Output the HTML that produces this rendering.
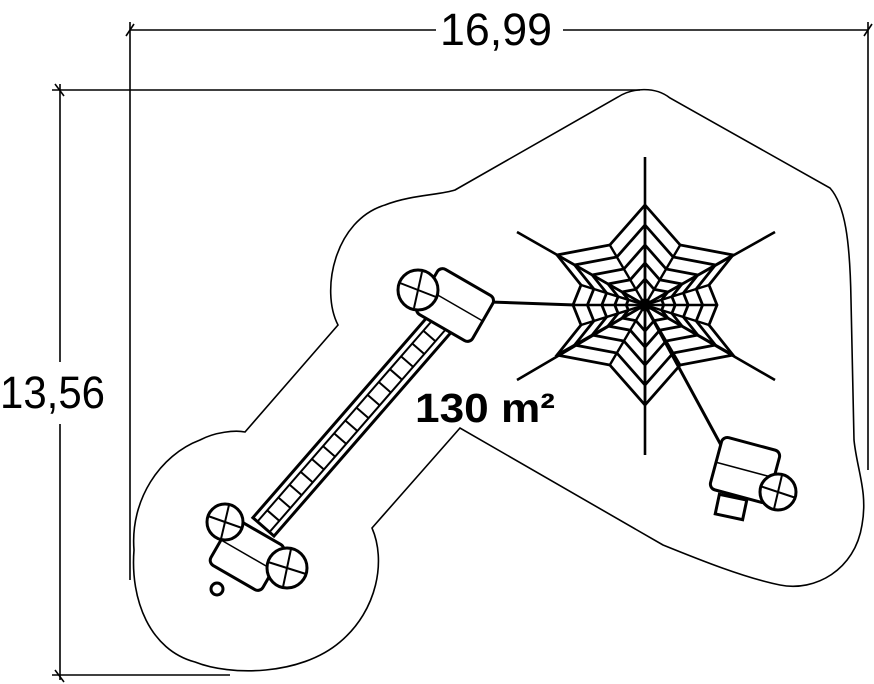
<!DOCTYPE html>
<html><head><meta charset="utf-8"><style>
html,body{margin:0;padding:0;background:#fff;}
svg{display:block;}
.dim{font-family:"Liberation Sans",sans-serif;fill:#000;}
</style></head><body>
<svg id="s" width="874" height="684" viewBox="0 0 874 684" xmlns="http://www.w3.org/2000/svg">
<g fill="none" stroke="#000" stroke-width="1.6">
<line x1="130" y1="30" x2="436" y2="30"/>
<line x1="563" y1="30" x2="868" y2="30"/>
<line x1="130" y1="22" x2="130" y2="580"/>
<line x1="868" y1="22" x2="868" y2="470"/>
<line x1="126" y1="36" x2="134" y2="24"/>
<line x1="864" y1="36" x2="872" y2="24"/>
<line x1="52" y1="90" x2="640" y2="90"/>
<line x1="60" y1="84" x2="60" y2="362"/>
<line x1="60" y1="424" x2="60" y2="680"/>
<line x1="52" y1="675" x2="230" y2="675"/>
<line x1="55" y1="84" x2="64" y2="96"/>
<line x1="55" y1="670" x2="64" y2="682"/>
<path d="M455,190 L618,97 C632,88 655,86 670,98 L830,188 C845,205 850,240 851,300 L854,440 C857,470 868,492 862,525 C855,570 815,592 780,585 C745,578 700,560 663,545 L460,428 L372,528 C386,560 378,610 340,642 C300,676 230,676 195,662 C150,650 130,600 134,550 C130,500 160,455 200,440 C215,432 235,430 245,432 L338,325 C320,290 335,220 385,205 C410,195 440,195 455,190 Z"/>
</g>
<text class="dim" x="440" y="45" font-size="45" textLength="112" lengthAdjust="spacingAndGlyphs">16,99</text>
<text class="dim" x="0" y="408" font-size="45" textLength="105" lengthAdjust="spacingAndGlyphs">13,56</text>
<text x="415" y="422" font-family="Liberation Sans,sans-serif" font-weight="bold" font-size="41" fill="#000" textLength="140" lengthAdjust="spacingAndGlyphs">130 m²</text>
<g id="web" fill="none" stroke="#000" stroke-width="3"></g>
<g fill="#fff" stroke="#000" stroke-width="3">
<g transform="translate(352,425) rotate(-49)">
<rect x="-135" y="-14" width="270" height="28"/>
<line x1="-135" y1="-8" x2="135" y2="-8" stroke-width="2"/>
<line x1="-135" y1="8" x2="135" y2="8" stroke-width="2"/>
<g id="rungs" stroke-width="2"></g>
</g>
<g transform="translate(455,305) rotate(30)">
<rect x="-32" y="-26" width="64" height="52" rx="6"/>
<line x1="-32" y1="0" x2="32" y2="0" stroke-width="1.5"/>
</g>
<circle cx="418" cy="290" r="20"/>
<line x1="400" y1="283" x2="436" y2="297" stroke-width="2"/><line x1="422" y1="272" x2="414" y2="308" stroke-width="2"/>
<g transform="translate(247,555) rotate(30)">
<rect x="-30" y="-26" width="60" height="52" rx="6"/>
<line x1="-30" y1="0" x2="30" y2="0" stroke-width="1.5"/>
</g>
<circle cx="225" cy="522" r="18"/>
<line x1="208" y1="516" x2="242" y2="528" stroke-width="2"/><line x1="229" y1="505" x2="221" y2="539" stroke-width="2"/>
<circle cx="287" cy="568" r="20"/>
<line x1="268" y1="562" x2="306" y2="574" stroke-width="2"/><line x1="291" y1="549" x2="283" y2="587" stroke-width="2"/>
<circle cx="217" cy="589" r="6"/>
<rect x="717" y="497" width="28" height="20" transform="rotate(12 731 507)"/>
<g transform="translate(745,470) rotate(15)">
<rect x="-30" y="-27" width="60" height="54" rx="6"/>
<line x1="-30" y1="0" x2="30" y2="0" stroke-width="1.5"/>
</g>
<circle cx="778" cy="492" r="18"/>
<line x1="760" y1="486" x2="796" y2="498" stroke-width="2"/><line x1="782" y1="475" x2="774" y2="509" stroke-width="2"/>
</g>
</svg>
<script>
var NS="http://www.w3.org/2000/svg";
function el(p,t,a){var e=document.createElementNS(NS,t);for(var k in a)e.setAttribute(k,a[k]);p.appendChild(e);return e;}
var w=document.getElementById("web"),cx=645,cy=305;
var V=[[0,-100],[88,-50],[72,0],[88,50],[0,100],[-88,50],[-72,0],[-88,-50]];
[1,0.8,0.6,0.42,0.26].forEach(function(s){var pts=[];for(var i=0;i<8;i++){var a=V[i],b=V[(i+1)%8];pts.push((cx+a[0]*s)+","+(cy+a[1]*s));pts.push((cx+(a[0]+b[0])*0.5*0.8*s)+","+(cy+(a[1]+b[1])*0.5*0.8*s));}el(w,"polygon",{points:pts.join(" "),"stroke-width":2.8});});
V.forEach(function(v){el(w,"line",{x1:cx,y1:cy,x2:cx+v[0],y2:cy+v[1],"stroke-width":2.6});});
for(var i=0;i<8;i++){var a=V[i],b=V[(i+1)%8];el(w,"line",{x1:cx,y1:cy,x2:cx+(a[0]+b[0])*0.4,y2:cy+(a[1]+b[1])*0.4,"stroke-width":2.4});}
[[645,157],[645,455],[517,232],[775,232],[517,380],[775,380]].forEach(function(p){el(w,"line",{x1:cx,y1:cy,x2:p[0],y2:p[1],"stroke-width":2.6});});
el(w,"line",{x1:490,y1:302,x2:575,y2:305,"stroke-width":3});
el(w,"line",{x1:cx,y1:cy,x2:722,y2:447,"stroke-width":3});
el(w,"circle",{cx:cx,cy:cy,r:5,fill:"#000"});
var r=document.getElementById("rungs");
for(var x=-120;x<=120;x+=17){el(r,"line",{x1:x,y1:-8,x2:x,y2:8});}
</script>
</body></html>
